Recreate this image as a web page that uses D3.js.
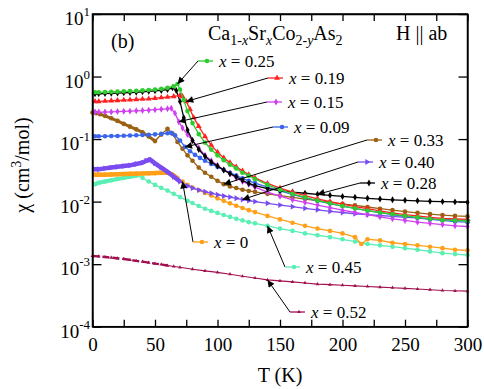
<!DOCTYPE html>
<html><head><meta charset="utf-8">
<script src="https://cdn.jsdelivr.net/npm/d3@7"></script>
<style>
body{margin:0;background:#fff}
svg{display:block}
</style>
</head><body>
<svg id="chart" width="484" height="389"></svg>
<script>
// chi (cm^3/mol) vs T (K), one array of [T, chi] per composition x
var x025 = [[2,.56],[5,.56],[10,.565],[15,.57],[20,.575],[25,.58],[30,.585],[35,.59],[40,.60],[45,.61],[50,.62],[55,.635],[60,.66],[65,.70],[68,.76],[70,.62],[73,.42],[76,.28],[80,.18],[85,.12],[90,.088],[95,.068],[100,.055],[105,.046],[110,.039],[115,.034],[120,.029],[125,.026],[130,.023],[140,.0185],[150,.0155],[160,.0133],[170,.0117],[180,.0104],[190,.0094],[200,.0085],[210,.0078],[220,.0072],[230,.0067],[240,.0063],[250,.0059],[260,.0056],[270,.0053],[280,.0051],[290,.005],[300,.0049]];
var x019 = [[2,.40],[5,.40],[10,.405],[15,.41],[20,.415],[25,.42],[30,.425],[35,.43],[40,.435],[45,.44],[50,.45],[55,.46],[60,.47],[65,.48],[70,.50],[72,.48],[75,.40],[78,.30],[81,.22],[85,.16],[90,.11],[95,.08],[100,.062],[105,.05],[110,.042],[115,.036],[120,.031],[125,.027],[130,.024],[140,.0195],[150,.0165],[160,.0142],[170,.0125],[180,.0111],[190,.01],[200,.0091],[210,.0083],[220,.0077],[230,.0071],[240,.0066],[250,.0062],[260,.0059],[270,.0056],[280,.0054],[290,.0053],[300,.0052]];
var x015 = [[2,.27],[5,.27],[10,.27],[15,.272],[20,.275],[25,.278],[30,.28],[35,.283],[40,.286],[45,.29],[50,.295],[55,.30],[60,.305],[63,.31],[66,.26],[69,.19],[72,.15],[76,.118],[80,.095],[85,.072],[90,.055],[95,.045],[100,.038],[105,.032],[110,.028],[115,.024],[120,.021],[125,.019],[130,.017],[140,.0142],[150,.0122],[160,.0107],[170,.0097],[180,.0088],[190,.008],[200,.0073],[210,.0067],[220,.0062],[230,.0057],[240,.0053],[250,.005],[260,.0047],[270,.0045],[280,.0043],[290,.0041],[300,.004]];
var x009 = [[2,.111],[5,.111],[10,.111],[15,.112],[20,.112],[25,.113],[30,.114],[35,.115],[40,.116],[45,.117],[50,.119],[55,.121],[60,.124],[63,.126],[66,.115],[70,.095],[74,.075],[78,.064],[82,.056],[86,.05],[90,.045],[95,.04],[100,.036],[105,.032],[110,.029],[115,.026],[120,.0235],[125,.0215],[130,.0198],[140,.017],[150,.0148],[160,.013],[170,.0115],[180,.0103],[190,.0093],[200,.0085],[210,.0078],[220,.0072],[230,.0067],[240,.0062],[250,.0058],[260,.0055],[270,.0052],[280,.005],[290,.0048],[300,.0047]];
var x033 = [[0,.265],[3,.26],[6,.25],[10,.235],[15,.215],[20,.195],[25,.175],[30,.158],[35,.143],[40,.128],[45,.11],[50,.093],[55,.118],[60,.146],[64,.122],[68,.09],[72,.07],[76,.055],[80,.045],[85,.035],[90,.029],[95,.025],[100,.0215],[105,.019],[110,.0175],[115,.0165],[120,.0155],[125,.0148],[130,.0143],[140,.0133],[150,.0125],[160,.0117],[170,.011],[180,.0104],[190,.0097],[200,.0092],[210,.0087],[220,.0082],[230,.0077],[240,.0073],[250,.0069],[260,.0066],[270,.0063],[280,.0061],[290,.0059],[300,.0058]];
var x040 = [[2,.033],[5,.033],[10,.034],[15,.035],[20,.036],[25,.037],[30,.038],[35,.04],[40,.042],[43,.045],[46,.047],[50,.041],[55,.035],[60,.03],[65,.025],[70,.021],[76,.0178],[80,.0165],[85,.0153],[90,.0144],[95,.0136],[100,.0129],[105,.0123],[110,.0118],[115,.0113],[120,.0108],[125,.0104],[130,.01],[140,.0094],[150,.0088],[160,.0083],[170,.0078],[180,.0074],[190,.007],[200,.0067],[210,.0064],[220,.0062],[230,.006],[240,.0058],[250,.0056],[260,.0055],[270,.0053],[280,.0052],[290,.0051],[300,.005]];
var x028 = [[2,.53],[5,.53],[10,.535],[15,.54],[20,.545],[25,.55],[30,.555],[35,.56],[40,.57],[45,.58],[50,.59],[55,.60],[60,.62],[64,.66],[67,.6],[70,.4],[73,.22],[76,.14],[80,.095],[85,.068],[90,.053],[95,.043],[100,.037],[105,.032],[110,.028],[115,.025],[120,.022],[125,.0195],[130,.018],[140,.0162],[150,.015],[160,.0142],[170,.0136],[180,.0131],[190,.0126],[200,.0121],[210,.0117],[220,.0113],[230,.011],[240,.0107],[250,.0105],[260,.0103],[270,.0101],[280,.01],[290,.0099],[300,.0098]];
var x000 = [[2,.027],[5,.027],[10,.027],[15,.0272],[20,.0274],[25,.0276],[30,.0278],[35,.028],[40,.0282],[45,.0284],[50,.0286],[55,.029],[60,.029],[64,.027],[68,.0235],[72,.021],[76,.0185],[80,.0168],[85,.0153],[90,.0138],[95,.0125],[100,.0113],[105,.0103],[110,.0094],[115,.0086],[120,.0079],[125,.0073],[130,.0068],[140,.0059],[150,.0052],[160,.0046],[170,.0041],[180,.0037],[190,.0034],[200,.0031],[210,.0027],[215,.0021],[220,.0025],[230,.0024],[240,.0022],[250,.0021],[260,.002],[270,.0019],[280,.0018],[290,.0017],[300,.00166]];
var x045 = [[2,.019],[5,.02],[10,.021],[15,.022],[20,.023],[25,.024],[30,.025],[35,.026],[40,.024],[45,.021],[50,.0185],[55,.0166],[60,.015],[65,.0133],[70,.0118],[76,.0103],[80,.0095],[85,.0085],[90,.0077],[95,.0071],[100,.0066],[105,.0061],[110,.0057],[115,.0053],[120,.005],[125,.0047],[130,.0045],[140,.0041],[150,.0037],[160,.0034],[170,.0031],[180,.0029],[190,.0027],[200,.0025],[210,.0023],[220,.0021],[230,.002],[240,.0019],[250,.0018],[260,.0017],[270,.0016],[280,.0015],[290,.00145],[300,.0014]];
var x052 = [[0,.00135],[5,.00133],[10,.0013],[15,.00127],[20,.00124],[25,.00121],[30,.00117],[35,.00113],[40,.0011],[45,.00106],[50,.00102],[55,.00099],[60,.00095],[65,.00092],[70,.00089],[80,.00083],[90,.00078],[100,.00074],[110,.00069],[120,.00064],[130,.0006],[140,.00056],[150,.00054],[160,.00052],[170,.0005],[180,.00048],[190,.00047],[200,.00046],[210,.00045],[220,.00044],[230,.00043],[240,.00042],[250,.00041],[260,.0004],[270,.00039],[280,.00038],[290,.000375],[300,.00037]];

var xLabels = ["0.52","0.45","0","0.40","0.33","0.09","0.15","0.28","0.19","0.25"];
var xSeries = [x052, x045, x000, x040, x033, x009, x015, x028, x019, x025];
var arrowT  = [140, 140, 72, 120, 105, 74, 69, 180, 75, 68];
var xTicks = d3.range(0, 301, 25);
var yTicks = [-4, -3, -2, -1, 0, 1];

// styles + label placement (pixels)
var colors = ["#a01050","#5aefb4","#ffa018","#7a4cf0","#9a6212","#3a66ee","#d040f0","#000000","#ff2020","#2ecc2e"];
var shapes = ["tick","circle","circle","triR","circle","circle","diamond","diamond","tri","circle"];
var lowT   = [60, 35, 70, 72, 50, 0, 0, 0, 0, 0];     // dense low-T part drawn heavier
var lowW   = [2.4, 4, 4.5, 4.5, 3, 0, 0, 0, 0, 0];
var lowDash = ["7,3", null, null, null, null, null, null, null, null, null];
var labelPos = [[290,312],[285,267],[193,242],[358,162],[367,140],[273,127],[267,102],[360,183],[268,78],[198,61]];
var FONT = "'Liberation Serif','Times New Roman',serif";

var svg = d3.select("#chart").attr("font-family", FONT);
var m = {l: 92.5, r: 467.5, t: 14, b: 326.7};
var x = d3.scaleLinear().domain([0, 300]).range([m.l, m.r]);
var y = d3.scaleLog().domain([1e-4, 10]).range([m.b, m.t]);

svg.append("defs").append("marker").attr("id", "ah").attr("markerUnits", "userSpaceOnUse")
	.attr("viewBox", "0 0 10 10").attr("refX", 10).attr("refY", 5)
	.attr("markerWidth", 9).attr("markerHeight", 7).attr("orient", "auto")
	.append("path").attr("d", "M0,0 L10,5 L0,10 Z").attr("fill", "#000");

function symbolPath(s) {
	if (s == "circle") return d3.symbol().type(d3.symbolCircle).size(17)();
	if (s == "diamond") return d3.symbol().type(d3.symbolDiamond).size(14)();
	if (s == "tick") return d3.symbol().type(d3.symbolTriangle).size(6)();
	return d3.symbol().type(d3.symbolTriangle).size(15)();
}
function drawMarker(g, s, px, py, c) {
	g.append("path").attr("d", symbolPath(s)).attr("fill", c)
		.attr("transform", "translate(" + px + "," + py + ")" + (s == "triR" ? " rotate(90)" : ""));
}
function txt(g) {
	return g.append("text").attr("font-family", FONT).attr("fill", "#000");
}

var line = d3.line().x(function (d) { return x(d[0]); }).y(function (d) { return y(d[1]); });
var plot = svg.append("g");
xSeries.forEach(function (data, i) {
	var g = plot.append("g");
	var low = data.filter(function (d) { return d[0] <= lowT[i]; });
	var rest = lowDash[i] ? data.filter(function (d) { return d[0] >= lowT[i]; }) : data;
	g.append("path").datum(rest).attr("d", line).attr("fill", "none")
		.attr("stroke", colors[i]).attr("stroke-width", i == 0 ? 1.1 : 1.3);
	if (low.length) {
		g.append("path").datum(low).attr("d", line).attr("fill", "none")
			.attr("stroke", colors[i]).attr("stroke-width", lowW[i])
			.attr("stroke-dasharray", lowDash[i]);
	}
	data.forEach(function (d) { drawMarker(g, shapes[i], x(d[0]), y(d[1]), colors[i]); });
});

// axes
var ax = svg.append("g");
ax.append("g").attr("transform", "translate(0," + m.b + ")")
	.call(d3.axisBottom(x).tickValues(xTicks).tickSizeInner(-7).tickSizeOuter(0).tickPadding(11)
		.tickFormat(function (d) { return d % 50 == 0 ? d : ""; }));
ax.append("g").attr("transform", "translate(0," + m.t + ")")
	.call(d3.axisTop(x).tickValues(xTicks).tickSizeInner(-7).tickSizeOuter(0).tickFormat(""));
ax.append("g").attr("transform", "translate(" + m.l + ",0)")
	.call(d3.axisLeft(y).tickValues(yTicks.map(function (e) { return Math.pow(10, e); })).tickSizeInner(-9).tickSizeOuter(0).tickFormat(""));
ax.append("g").attr("transform", "translate(" + m.r + ",0)")
	.call(d3.axisRight(y).tickValues(yTicks.map(function (e) { return Math.pow(10, e); })).tickSizeInner(-9).tickSizeOuter(0).tickFormat(""));
ax.selectAll("g").attr("font-family", FONT).attr("font-size", 19);
ax.selectAll("text").attr("font-size", 19).attr("fill", "#000");
ax.selectAll("line, path").attr("stroke", "#000").attr("stroke-width", 1.3);
svg.append("rect").attr("x", m.l).attr("y", m.t).attr("width", m.r - m.l).attr("height", m.b - m.t)
	.attr("fill", "none").attr("stroke", "#000").attr("stroke-width", 1.5);

yTicks.forEach(function (e) {
	var t = txt(svg).attr("x", 90).attr("y", y(Math.pow(10, e)) + 11).attr("text-anchor", "end").attr("font-size", 19);
	t.append("tspan").text("10");
	t.append("tspan").attr("dy", -9).attr("font-size", 13).text(e < 0 ? "-" + (-e) : e);
});

// axis titles
txt(svg).attr("x", (m.l + m.r) / 2).attr("y", 382).attr("text-anchor", "middle").attr("font-size", 20).text("T (K)");
var yt = txt(svg).attr("transform", "translate(29,165) rotate(-90)").attr("text-anchor", "middle").attr("font-size", 20);
yt.append("tspan").text("\u03c7 (cm");
yt.append("tspan").attr("dy", -8).attr("font-size", 14).text("3");
yt.append("tspan").attr("dy", 8).text("/mol)");

// panel texts
txt(svg).attr("x", 111).attr("y", 48).attr("font-size", 20).text("(b)");
txt(svg).attr("x", 396).attr("y", 40).attr("font-size", 20).text("H || ab");
var ti = txt(svg).attr("x", 208).attr("y", 40).attr("font-size", 20);
[["Ca",0],["1-",1],["x",2],["Sr",0],["x",2],["Co",0],["2-",1],["y",2],["As",0],["2",1]].forEach(function (p, k, arr) {
	var prevSub = k > 0 && arr[k - 1][1] > 0;
	var sp = ti.append("tspan").text(p[0]);
	if (p[1] > 0) {
		sp.attr("font-size", 14);
		if (!prevSub) sp.attr("dy", 5);
		if (p[1] == 2) sp.attr("font-style", "italic");
	} else if (prevSub) sp.attr("dy", -5);
});

// labels with arrows
xLabels.forEach(function (lab, i) {
	var data = xSeries[i];
	var tip = data.reduce(function (a, b) { return Math.abs(b[0] - arrowT[i]) < Math.abs(a[0] - arrowT[i]) ? b : a; });
	var sx = labelPos[i][0], sy = labelPos[i][1];
	var g = svg.append("g");
	g.append("line").attr("x1", sx).attr("y1", sy).attr("x2", x(tip[0])).attr("y2", y(tip[1]))
		.attr("stroke", "#000").attr("stroke-width", 1).attr("marker-end", "url(#ah)");
	g.append("line").attr("x1", sx).attr("y1", sy).attr("x2", sx + 15).attr("y2", sy)
		.attr("stroke", colors[i]).attr("stroke-width", 1.3);
	drawMarker(g, shapes[i], sx + 9, sy, colors[i]);
	var t = txt(g).attr("x", sx + 21).attr("y", sy + 6).attr("font-size", 17);
	t.append("tspan").attr("font-style", "italic").text("x");
	t.append("tspan").text(" = " + lab);
});
</script>
</body></html>
